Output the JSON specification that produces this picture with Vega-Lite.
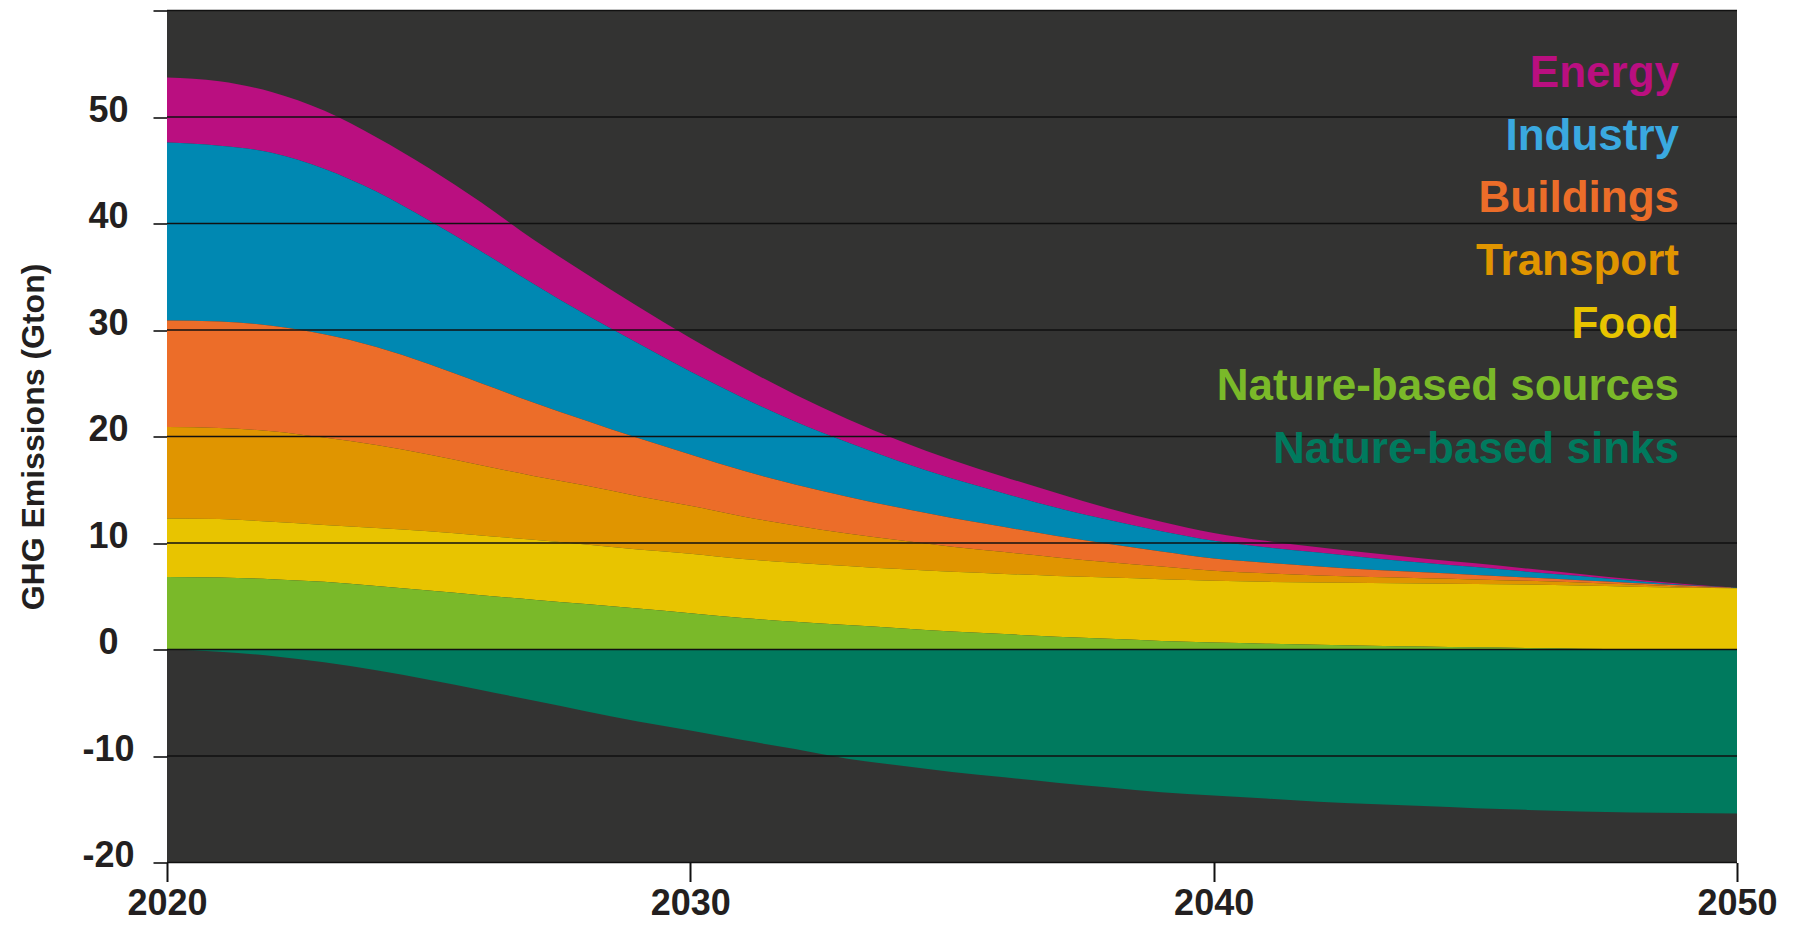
{
  "$schema": "https://vega.github.io/schema/vega-lite/v6.json",
  "width": 1570,
  "height": 852,
  "autosize": {"type": "none"},
  "padding": {"left": 167, "top": 10.5, "right": 59, "bottom": 62.5},
  "background": "white",
  "config": {"view": {"fill": "#333332", "stroke": null}, "font": "Liberation Sans"},
  "datasets": {
    "gridlines": [{"g": -20}, {"g": -10}, {"g": 0}, {"g": 10}, {"g": 20}, {"g": 30}, {"g": 40}, {"g": 50}, {"g": 60}]
  },
  "data": {
    "values": [
      {"year": 2020, "Energy": 6.1, "Industry": 16.7, "Buildings": 10.0, "Transport": 8.6, "Food": 5.5, "Nature-based sources": 6.8, "Nature-based sinks": 0},
      {"year": 2021, "Energy": 6.05, "Industry": 16.5, "Buildings": 10.0, "Transport": 8.55, "Food": 5.5, "Nature-based sources": 6.75, "Nature-based sinks": -0.2},
      {"year": 2022, "Energy": 5.7, "Industry": 16.25, "Buildings": 9.9, "Transport": 8.5, "Food": 5.4, "Nature-based sources": 6.6, "Nature-based sinks": -0.6},
      {"year": 2023, "Energy": 5.45, "Industry": 15.55, "Buildings": 9.7, "Transport": 8.2, "Food": 5.35, "Nature-based sources": 6.35, "Nature-based sinks": -1.2},
      {"year": 2024, "Energy": 5.1, "Industry": 14.6, "Buildings": 9.2, "Transport": 7.8, "Food": 5.44, "Nature-based sources": 5.96, "Nature-based sinks": -1.95},
      {"year": 2025, "Energy": 4.9, "Industry": 13.5, "Buildings": 8.5, "Transport": 7.2, "Food": 5.57, "Nature-based sources": 5.53, "Nature-based sinks": -2.83},
      {"year": 2026, "Energy": 4.6, "Industry": 12.4, "Buildings": 7.7, "Transport": 6.6, "Food": 5.6, "Nature-based sources": 5.1, "Nature-based sinks": -3.8},
      {"year": 2027, "Energy": 4.15, "Industry": 11.15, "Buildings": 6.9, "Transport": 6.0, "Food": 5.63, "Nature-based sources": 4.67, "Nature-based sinks": -4.8},
      {"year": 2028, "Energy": 3.85, "Industry": 9.95, "Buildings": 6.1, "Transport": 5.55, "Food": 5.58, "Nature-based sources": 4.27, "Nature-based sinks": -5.8},
      {"year": 2029, "Energy": 3.45, "Industry": 8.9, "Buildings": 5.45, "Transport": 5.0, "Food": 5.56, "Nature-based sources": 3.84, "Nature-based sinks": -6.76},
      {"year": 2030, "Energy": 3.15, "Industry": 7.8, "Buildings": 4.8, "Transport": 4.5, "Food": 5.59, "Nature-based sources": 3.41, "Nature-based sinks": -7.6},
      {"year": 2031, "Energy": 2.85, "Industry": 6.85, "Buildings": 4.3, "Transport": 4.0, "Food": 5.55, "Nature-based sources": 2.95, "Nature-based sinks": -8.5},
      {"year": 2032, "Energy": 2.55, "Industry": 5.9, "Buildings": 3.85, "Transport": 3.5, "Food": 5.55, "Nature-based sources": 2.6, "Nature-based sinks": -9.35},
      {"year": 2033, "Energy": 2.2, "Industry": 5.1, "Buildings": 3.45, "Transport": 3.05, "Food": 5.55, "Nature-based sources": 2.3, "Nature-based sinks": -10.25},
      {"year": 2034, "Energy": 1.95, "Industry": 4.35, "Buildings": 3.05, "Transport": 2.7, "Food": 5.55, "Nature-based sources": 2.0, "Nature-based sinks": -10.9},
      {"year": 2035, "Energy": 1.75, "Industry": 3.7, "Buildings": 2.7, "Transport": 2.35, "Food": 5.6, "Nature-based sources": 1.7, "Nature-based sinks": -11.5},
      {"year": 2036, "Energy": 1.55, "Industry": 3.15, "Buildings": 2.35, "Transport": 2.05, "Food": 5.65, "Nature-based sources": 1.45, "Nature-based sinks": -12.0},
      {"year": 2037, "Energy": 1.4, "Industry": 2.65, "Buildings": 2.0, "Transport": 1.75, "Food": 5.7, "Nature-based sources": 1.2, "Nature-based sinks": -12.5},
      {"year": 2038, "Energy": 1.1, "Industry": 2.25, "Buildings": 1.7, "Transport": 1.45, "Food": 5.75, "Nature-based sources": 1.0, "Nature-based sinks": -12.95},
      {"year": 2039, "Energy": 0.9, "Industry": 1.9, "Buildings": 1.4, "Transport": 1.2, "Food": 5.8, "Nature-based sources": 0.8, "Nature-based sinks": -13.4},
      {"year": 2040, "Energy": 0.75, "Industry": 1.65, "Buildings": 1.15, "Transport": 0.95, "Food": 5.8, "Nature-based sources": 0.65, "Nature-based sinks": -13.7},
      {"year": 2041, "Energy": 0.6, "Industry": 1.45, "Buildings": 1.0, "Transport": 0.8, "Food": 5.8, "Nature-based sources": 0.55, "Nature-based sinks": -14.0},
      {"year": 2042, "Energy": 0.5, "Industry": 1.3, "Buildings": 0.85, "Transport": 0.65, "Food": 5.85, "Nature-based sources": 0.45, "Nature-based sinks": -14.3},
      {"year": 2043, "Energy": 0.45, "Industry": 1.1, "Buildings": 0.7, "Transport": 0.55, "Food": 5.89, "Nature-based sources": 0.36, "Nature-based sinks": -14.5},
      {"year": 2044, "Energy": 0.4, "Industry": 0.9, "Buildings": 0.55, "Transport": 0.5, "Food": 5.92, "Nature-based sources": 0.28, "Nature-based sinks": -14.7},
      {"year": 2045, "Energy": 0.35, "Industry": 0.75, "Buildings": 0.42, "Transport": 0.42, "Food": 5.95, "Nature-based sources": 0.21, "Nature-based sinks": -14.9},
      {"year": 2046, "Energy": 0.3, "Industry": 0.55, "Buildings": 0.3, "Transport": 0.35, "Food": 5.96, "Nature-based sources": 0.14, "Nature-based sinks": -15.06},
      {"year": 2047, "Energy": 0.2, "Industry": 0.4, "Buildings": 0.2, "Transport": 0.3, "Food": 5.92, "Nature-based sources": 0.08, "Nature-based sinks": -15.2},
      {"year": 2048, "Energy": 0.15, "Industry": 0.2, "Buildings": 0.15, "Transport": 0.2, "Food": 5.87, "Nature-based sources": 0.03, "Nature-based sinks": -15.3},
      {"year": 2049, "Energy": 0.1, "Industry": 0.05, "Buildings": 0.1, "Transport": 0.1, "Food": 5.8, "Nature-based sources": 0, "Nature-based sinks": -15.35},
      {"year": 2050, "Energy": 0.01, "Industry": 0.01, "Buildings": 0.01, "Transport": 0.02, "Food": 5.75, "Nature-based sources": 0, "Nature-based sinks": -15.4}
    ]
  },
  "transform": [
    {"fold": ["Energy", "Industry", "Buildings", "Transport", "Food", "Nature-based sources", "Nature-based sinks"], "as": ["sector", "value"]}
  ],
  "layer": [
    {
      "transform": [
        {"calculate": "indexof(['Nature-based sinks','Nature-based sources','Food','Transport','Buildings','Industry','Energy'], datum.sector)", "as": "stackOrder"}
      ],
      "mark": {"type": "area", "interpolate": "monotone"},
      "encoding": {
        "x": {
          "field": "year", "type": "quantitative",
          "scale": {"domain": [2020, 2050], "nice": false, "zero": false},
          "axis": {
            "values": [2020, 2030, 2040, 2050], "format": "d", "title": null, "grid": false, "domain": false,
            "tickSize": 19, "tickWidth": 2, "tickColor": "#111111",
            "labelFontSize": 36, "labelFont": "Liberation Sans", "labelFontWeight": "bold", "labelColor": "#231f20",
            "labelBaseline": "alphabetic", "labelPadding": 33, "labelFlush": false, "labelOverlap": false
          }
        },
        "y": {
          "field": "value", "type": "quantitative", "stack": "zero",
          "scale": {"domain": [-20, 60], "nice": false},
          "axis": {
            "values": [-20, -10, 0, 10, 20, 30, 40, 50, 60],
            "labelExpr": "datum.value == 60 ? '' : toString(datum.value)",
            "title": "GHG Emissions (Gton)", "titleFontSize": 32, "titleFontWeight": "bold", "titleColor": "#231f20",
            "titleFont": "Liberation Sans", "titleAngle": -90, "titleX": -124, "titleY": 426, "titleAlign": "center", "titleBaseline": "alphabetic",
            "grid": false, "domain": false,
            "tickSize": 14, "tickColor": "#111111", "tickWidth": 1.6,
            "labelAlign": "center", "labelBaseline": "middle", "labelOffset": -7, "labelPadding": 45,
            "labelFontSize": 36, "labelFont": "Liberation Sans", "labelFontWeight": "bold", "labelColor": "#231f20"
          }
        },
        "color": {
          "field": "sector", "type": "nominal",
          "scale": {
            "domain": ["Energy", "Industry", "Buildings", "Transport", "Food", "Nature-based sources", "Nature-based sinks"],
            "range": ["#ba0f80", "#0088b2", "#ec6d29", "#e09500", "#e8c400", "#7ab929", "#007a5e"]
          },
          "legend": null
        },
        "order": {"field": "stackOrder", "type": "quantitative", "sort": "ascending"}
      }
    },
    {
      "data": {"name": "gridlines"},
      "mark": {"type": "rule", "color": "#111111", "strokeWidth": 1.6},
      "encoding": {
        "y": {"field": "g", "type": "quantitative", "scale": {"domain": [-20, 60], "nice": false, "zero": false}, "axis": null}
      }
    },
    {
      "transform": [
        {"filter": "datum.year == 2050"},
        {"calculate": "indexof(['Energy','Industry','Buildings','Transport','Food','Nature-based sources','Nature-based sinks'], datum.sector)", "as": "rank"}
      ],
      "mark": {"type": "text", "align": "right", "baseline": "alphabetic", "dx": -58, "fontSize": 44, "fontWeight": "bold", "font": "Liberation Sans"},
      "encoding": {
        "x": {"datum": 2050, "type": "quantitative"},
        "y": {"field": "rank", "type": "quantitative", "scale": {"domain": [-1.2274, 12.389], "reverse": true, "nice": false, "zero": false}, "axis": null},
        "text": {"field": "sector"},
        "color": {
          "field": "sector", "type": "nominal",
          "scale": {
            "domain": ["Energy", "Industry", "Buildings", "Transport", "Food", "Nature-based sources", "Nature-based sinks"],
            "range": ["#ba0f80", "#3aa9e0", "#ec6d29", "#e09500", "#e8c400", "#7ab929", "#007a5e"]
          },
          "legend": null
        }
      }
    }
  ],
  "resolve": {"scale": {"y": "independent", "color": "independent"}}
}
